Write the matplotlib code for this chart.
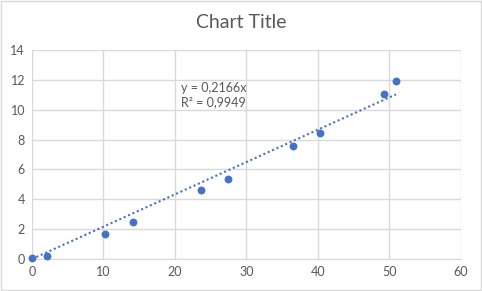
import matplotlib.pyplot as plt
import numpy as np

# data
x_vals = [0.0, 2.1, 10.2, 14.1, 23.6, 27.4, 36.5, 40.3, 49.2, 50.9]
y_vals = [0.09, 0.18, 1.67, 2.5, 4.62, 5.36, 7.59, 8.44, 11.05, 11.92]
slope = 0.2166
eq_label = "y = 0,2166x\nR² = 0,9949"
x_ticks = [0, 10, 20, 30, 40, 50, 60]
y_ticks = [0, 2, 4, 6, 8, 10, 12, 14]

blue = "#4472C4"
grey_text = "#595959"
grid_col = "#D9D9D9"

plt.rcParams['font.family'] = ['Lato', 'DejaVu Sans']

fig = plt.figure(figsize=(4.82, 2.91), dpi=100)
ax = fig.add_axes([32 / 482, 1 - 259 / 291, (461 - 32) / 482, (259 - 50) / 291])

ax.scatter(x_vals, y_vals, s=32, color=blue, zorder=3, linewidths=0, clip_on=False)

# linear trendline through origin
x_line = np.array([min(x_vals), max(x_vals)])
ax.plot(x_line, slope * x_line, linestyle=(0, (1, 1.3)), color=blue, linewidth=1.5, zorder=2)

ax.text(20.9, 11.0, eq_label, fontsize=9, color=grey_text, va='center', ha='left',
        linespacing=1.2)

ax.set_xlim(0, 60)
ax.set_ylim(0, 14)
ax.set_xticks(x_ticks)
ax.set_yticks(y_ticks)
ax.grid(True, color=grid_col, linewidth=1)
ax.set_axisbelow(True)
for s in ['top', 'right', 'left']:
    ax.spines[s].set_visible(False)
ax.spines['bottom'].set_color(grid_col)
ax.tick_params(length=0, labelsize=9, labelcolor=grey_text, pad=5)

fig.text(0.5, 1 - 22 / 291, "Chart Title", ha='center', va='center', fontsize=14, color=grey_text)

# light border around chart area
fig.patches.append(plt.Rectangle((0.002, 0.003), 0.995, 0.994, transform=fig.transFigure,
                                 fill=False, edgecolor=grid_col, linewidth=1))

fig.savefig("out.png", dpi=100)
